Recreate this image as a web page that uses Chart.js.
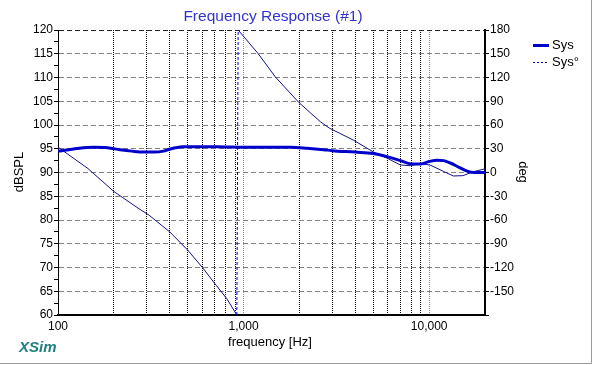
<!DOCTYPE html>
<html>
<head>
<meta charset="utf-8">
<script src="https://cdn.jsdelivr.net/npm/chart.js@4.4.1/dist/chart.umd.min.js"></script>
<style>
  html, body { margin: 0; padding: 0; background: #fff; }
  canvas { display: block; }
</style>
</head>
<body>
<canvas id="fr" width="595" height="365"></canvas>
<script>
// magnitude (dB SPL)
const magFreq = [100, 105, 130, 155, 185, 216, 250, 290, 330, 370, 400, 430, 470, 600, 720, 1000, 1300, 1800, 2200, 2700, 3000, 4000, 5000, 6000, 7000, 8000, 9000, 10000, 11000, 12000, 13000, 14500, 16000, 17500, 20000];
const magDb = [94.5, 94.6, 95.1, 95.3, 95.2, 94.8, 94.5, 94.3, 94.3, 94.5, 94.9, 95.2, 95.4, 95.4, 95.4, 95.3, 95.3, 95.3, 95.1, 94.8, 94.6, 94.3, 94.0, 93.3, 92.5, 91.8, 91.8, 92.3, 92.6, 92.5, 92.0, 91.1, 90.3, 90.0, 90.0];

// phase (deg), wraps from -180 to +180 just above 900 Hz
const phFreq = [100, 145, 200, 270, 310, 400, 500, 600, 715, 810, 920, 935, 1200, 1480, 1975, 2300, 2600, 2900, 3300, 3900, 5000, 5950, 7000, 7900, 8900, 10100, 11900, 13500, 15200, 17300, 19500, 20000];
const phDeg = [32, 5, -24, -45, -54, -75, -98, -120, -143, -159, -180, 180, 150, 121, 89, 75, 64, 56, 49.5, 41, 26, 18, 9.5, 8.6, 11, 9.5, 1.6, -4.4, -4, 1, 4, 4.5];

const freqGrid = [100, 200, 300, 400, 500, 600, 700, 800, 900, 1000, 2000, 3000, 4000, 5000, 6000, 7000, 8000, 9000, 10000, 20000];
const freqLabels = [100, 1000, 10000];

const FONT = '"Liberation Sans", Arial, sans-serif';
Chart.defaults.font.family = FONT;
Chart.defaults.font.size = 12;
Chart.defaults.color = "#000";

const textPlugin = {
  id: "texts",
  afterDraw(chart) {
    const ctx = chart.ctx;
    ctx.save();
    // window frame
    ctx.strokeStyle = "#9a9a9a";
    ctx.lineWidth = 1;
    ctx.beginPath();
    ctx.moveTo(0, 363.5);
    ctx.lineTo(591.5, 363.5);
    ctx.lineTo(591.5, 0);
    ctx.stroke();

    ctx.textBaseline = "middle";
    ctx.textAlign = "center";
    ctx.fillStyle = "#3333cc";
    ctx.font = "15.5px " + FONT;
    ctx.fillText("Frequency Response (#1)", 273, 17);

    ctx.fillStyle = "#000";
    ctx.font = "13px " + FONT;
    ctx.fillText("frequency [Hz]", 270, 342);

    ctx.save();
    ctx.translate(19, 172);
    ctx.rotate(-Math.PI / 2);
    ctx.fillText("dBSPL", 0, 0);
    ctx.restore();

    ctx.save();
    ctx.translate(523, 172);
    ctx.rotate(Math.PI / 2);
    ctx.fillText("deg", 0, 0);
    ctx.restore();

    ctx.textAlign = "left";
    ctx.fillStyle = "#1f7f7f";
    ctx.font = "italic bold 15px " + FONT;
    ctx.fillText("XSim", 19, 348);

    // legend
    const ds = chart.data.datasets;
    ctx.font = "13px " + FONT;
    ctx.fillStyle = "#000";
    ctx.strokeStyle = ds[0].borderColor;
    ctx.lineWidth = 3;
    ctx.beginPath();
    ctx.moveTo(533, 45.5);
    ctx.lineTo(549, 45.5);
    ctx.stroke();
    ctx.fillText(ds[0].label, 552, 45);

    ctx.strokeStyle = "#0000cc";
    ctx.lineWidth = 1;
    ctx.setLineDash([2, 2]);
    ctx.beginPath();
    ctx.moveTo(533, 62.5);
    ctx.lineTo(548, 62.5);
    ctx.stroke();
    ctx.setLineDash([]);
    ctx.fillText(ds[1].label, 552, 62);
    ctx.restore();
  },
};

const wrapped = (c) => Math.abs(c.p1.parsed.y - c.p0.parsed.y) > 200;

new Chart(document.getElementById("fr").getContext("2d"), {
  type: "line",
  data: {
    datasets: [
      {
        label: "Sys",
        data: magFreq.map((f, i) => ({ x: f, y: magDb[i] })),
        yAxisID: "y",
        borderColor: "#0000cc",
        borderWidth: 3,
        pointRadius: 0,
        cubicInterpolationMode: "monotone",
        fill: false,
      },
      {
        label: "Sys°",
        data: phFreq.map((f, i) => ({ x: f, y: phDeg[i] })),
        yAxisID: "y2",
        borderColor: "#101088",
        borderWidth: 1,
        pointRadius: 0,
        tension: 0,
        fill: false,
        segment: {
          borderDash: (c) => (wrapped(c) ? [3, 2] : undefined),
          borderColor: (c) => (wrapped(c) ? "#0000cc" : undefined),
        },
      },
    ],
  },
  options: {
    responsive: false,
    animation: false,
    devicePixelRatio: 1,
    layout: { padding: { top: 30, left: 0, right: 0, bottom: 0 } },
    plugins: { legend: { display: false }, tooltip: { enabled: false } },
    scales: {
      x: {
        type: "logarithmic",
        min: 100,
        max: 20000,
        afterBuildTicks: (s) => {
          s.ticks = freqGrid.map((v) => ({ value: v }));
        },
        afterFit: (s) => {
          s.height = 50;
        },
        ticks: {
          autoSkip: false,
          maxRotation: 0,
          padding: 4,
          font: { size: 12 },
          callback: (v) => (freqLabels.includes(v) ? v.toLocaleString("en-US") : ""),
        },
        grid: {
          drawTicks: false,
          color: (c) => {
            const v = c.tick && c.tick.value;
            if (v === 100 || v === 20000) return "rgba(0,0,0,0)";
            if (v === 1000 || v === 10000) return "#8a8a8a";
            return "#000";
          },
        },
        border: { color: "#000", width: 2, dash: [1, 1] },
      },
      y: {
        position: "left",
        min: 60,
        max: 120,
        afterFit: (s) => {
          s.width = 58;
        },
        ticks: {
          stepSize: 2.5,
          autoSkip: false,
          padding: 1,
          callback: (v) => (v % 5 === 0 ? String(v) : ""),
        },
        grid: {
          tickLength: 4,
          tickColor: "#000",
          color: (c) => {
            const v = c.tick && c.tick.value;
            if (v === 60 || v % 5 !== 0) return "rgba(0,0,0,0)";
            if (v === 120) return "#222";
            return "#808080";
          },
        },
        border: { color: "#000", width: 1, dash: [5, 3] },
      },
      y2: {
        position: "right",
        min: -180,
        max: 180,
        afterFit: (s) => {
          s.width = 110;
        },
        ticks: {
          stepSize: 30,
          autoSkip: false,
          padding: 1,
          callback: (v) => (v === -180 ? "" : String(v)),
        },
        grid: { drawOnChartArea: false, tickLength: 4, tickColor: "#000" },
        border: { color: "#000", width: 2 },
      },
    },
  },
  plugins: [textPlugin],
});
</script>
</body>
</html>
